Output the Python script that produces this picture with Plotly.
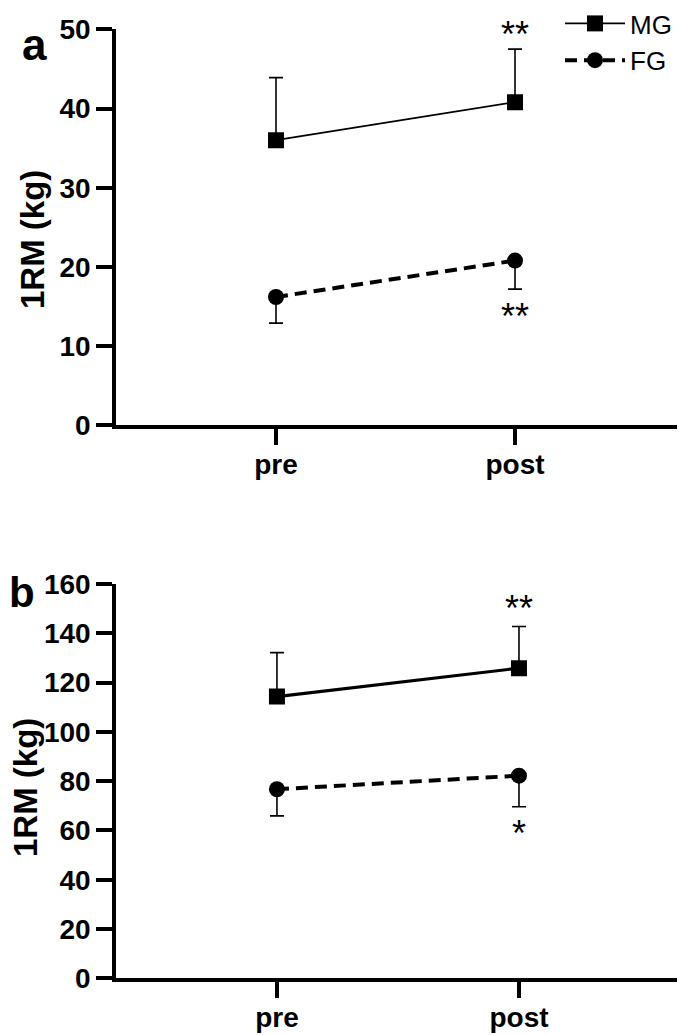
import plotly.graph_objects as go

# ---------------- data ----------------
timepoints = ["pre", "post"]
x_pos = [0, 1]

# panel a
a_mg_mean = [36.0, 40.8]
a_mg_sd = [7.9, 6.7]
a_fg_mean = [16.2, 20.8]
a_fg_sd = [3.3, 3.6]

# panel b
b_mg_mean = [114.3, 125.8]
b_mg_sd = [17.8, 16.9]
b_fg_mean = [76.7, 82.2]
b_fg_sd = [10.8, 12.6]

a_yticks = [0, 10, 20, 30, 40, 50]
b_yticks = [0, 20, 40, 60, 80, 100, 120, 140, 160]

# significance markers (text, y value) at "post"
a_stars_text = ["**", "**"]
a_stars_y = [49.8, 14.2]
b_stars_text = ["**", "*"]
b_stars_y = [152.2, 60.6]

series_names = ["MG", "FG"]
y_title = "1RM (kg)"
panel_labels = ["a", "b"]

# ---------------- figure ----------------
OFF = 8  # page body margin
W, H = 685 - OFF, 1035 - OFF
FONT = "Arial, 'Liberation Sans', sans-serif"

def px_x(x):
    return (x - OFF) / W

def px_y(y):
    return 1 - (y - OFF) / H

fig = go.Figure()

def add_panel(row, mg_mean, mg_sd, fg_mean, fg_sd, mg_width, show_legend):
    xa = "x" if row == 1 else "x2"
    ya = "y" if row == 1 else "y2"
    fig.add_trace(go.Scatter(
        x=x_pos, y=mg_mean, mode="lines+markers", name=series_names[0],
        xaxis=xa, yaxis=ya, showlegend=show_legend, legendgroup="mg",
        line=dict(color="black", width=mg_width),
        marker=dict(symbol="square", size=16, color="black"),
        error_y=dict(type="data", symmetric=False, array=mg_sd,
                     arrayminus=[0] * len(mg_sd), color="black",
                     thickness=1.6, width=7),
    ))
    fig.add_trace(go.Scatter(
        x=x_pos, y=fg_mean, mode="lines+markers", name=series_names[1],
        xaxis=xa, yaxis=ya, showlegend=show_legend, legendgroup="fg",
        line=dict(color="black", width=4, dash="12px,7px"),
        marker=dict(symbol="circle", size=16, color="black"),
        error_y=dict(type="data", symmetric=False, array=[0] * len(fg_sd),
                     arrayminus=fg_sd, color="black",
                     thickness=1.6, width=7),
    ))

add_panel(1, a_mg_mean, a_mg_sd, a_fg_mean, a_fg_sd, 1.8, True)
add_panel(2, b_mg_mean, b_mg_sd, b_fg_mean, b_fg_sd, 3.2, False)

x_dom = [px_x(116), px_x(682)]
ya_dom = [px_y(425.3), px_y(29.3)]
yb_dom = [px_y(978.3), px_y(583.9)]

tickfont = dict(family=FONT, size=28, color="black", weight="bold")
axis_common = dict(showline=True, linecolor="black", linewidth=3.5,
                   ticks="outside", ticklen=16, tickwidth=3.5, tickcolor="black",
                   showgrid=False, zeroline=False, tickfont=tickfont,
                   automargin=False)

fig.update_layout(
    width=W, height=H, margin=dict(l=0, r=0, t=0, b=0, autoexpand=False),
    paper_bgcolor="white", plot_bgcolor="white",
    font=dict(family=FONT, color="black"),
    xaxis=dict(domain=x_dom, range=[-0.6695, 1.6987], anchor="y",
               tickvals=x_pos, ticktext=timepoints, ticklabelstandoff=-5,
               **axis_common),
    yaxis=dict(domain=ya_dom, range=[0, 50], anchor="x", tickvals=a_yticks,
               **axis_common),
    xaxis2=dict(domain=x_dom, range=[-0.665, 1.6736], anchor="y2",
                tickvals=x_pos, ticktext=timepoints, ticklabelstandoff=-5,
                **axis_common),
    yaxis2=dict(domain=yb_dom, range=[0, 160], anchor="x2", tickvals=b_yticks,
                **axis_common),
    legend=dict(x=px_x(560), y=px_y(0), xanchor="left", yanchor="top",
                font=dict(family=FONT, size=26, color="black"),
                bgcolor="rgba(0,0,0,0)", borderwidth=0,
                itemwidth=60, tracegroupgap=0),
    showlegend=True,
)

annotations = []
for t, yv in zip(a_stars_text, a_stars_y):
    annotations.append(dict(x=x_pos[1], y=yv, xref="x", yref="y", text=t,
                            showarrow=False, yshift=-4,
                            font=dict(family=FONT, size=36, color="black")))
for t, yv in zip(b_stars_text, b_stars_y):
    annotations.append(dict(x=x_pos[1], y=yv, xref="x2", yref="y2", text=t,
                            showarrow=False, yshift=-5,
                            font=dict(family=FONT, size=36, color="black")))
# y-axis titles
annotations.append(dict(x=px_x(32), y=px_y(240), xref="paper", yref="paper", text=y_title,
                        textangle=-90, showarrow=False, xanchor="center", yanchor="middle",
                        font=dict(family=FONT, size=33, color="black", weight="bold")))
annotations.append(dict(x=px_x(25), y=px_y(788), xref="paper", yref="paper", text=y_title,
                        textangle=-90, showarrow=False, xanchor="center", yanchor="middle",
                        font=dict(family=FONT, size=33, color="black", weight="bold")))
# panel letters
annotations.append(dict(x=px_x(34), y=px_y(44), xref="paper", yref="paper", text=panel_labels[0],
                        showarrow=False, xanchor="center", yanchor="middle",
                        font=dict(family=FONT, size=44, color="black", weight="bold")))
annotations.append(dict(x=px_x(22), y=px_y(592), xref="paper", yref="paper", text=panel_labels[1],
                        showarrow=False, xanchor="center", yanchor="middle",
                        font=dict(family=FONT, size=42, color="black", weight="bold")))
fig.update_layout(annotations=annotations)

fig.write_html("out.html")
